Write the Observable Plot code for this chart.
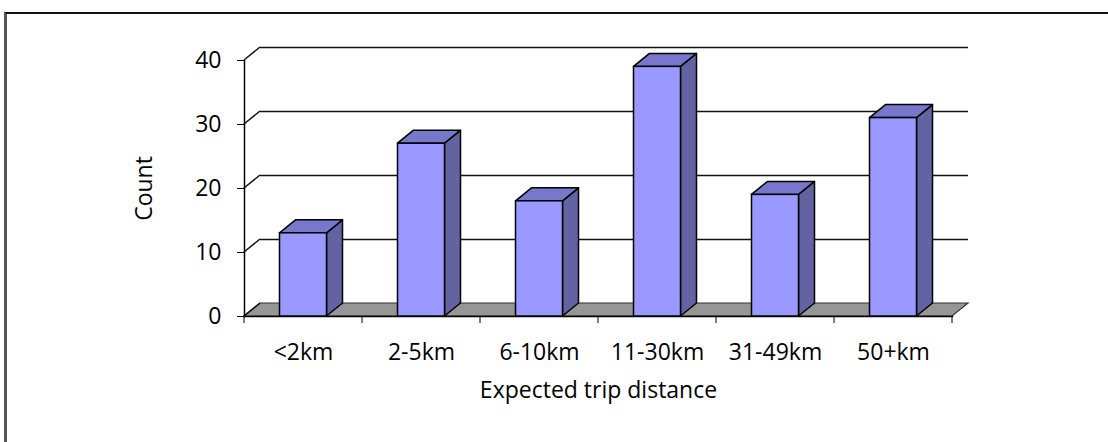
<!DOCTYPE html>
<html>
<head>
<meta charset="utf-8">
<script src="https://cdn.jsdelivr.net/npm/d3@7"></script>
<script src="https://cdn.jsdelivr.net/npm/@observablehq/plot@0.6"></script>
<style>
  html, body { margin: 0; padding: 0; background: #fff; }
  #wrap { position: relative; width: 1108px; height: 442px; overflow: hidden; }
  #chart { position: absolute; left: 0; top: 0; }
  #border { position: absolute; left: 4px; top: 12px; width: 1110px; height: 440px;
            border-top: 2px solid #111; border-left: 3px solid #555; box-sizing: border-box; pointer-events: none; }
</style>
</head>
<body>
<div id="wrap"><div id="chart"></div><div id="border"></div></div>
<script>
const categories = ["<2km", "2-5km", "6-10km", "11-30km", "31-49km", "50+km"];
const counts = [13, 27, 18, 39, 19, 31];
const yTicks = [0, 10, 20, 30, 40];
const xLabel = "Expected trip distance";
const yLabel = "Count";

const data = categories.map((c, i) => ({category: c, count: counts[i]}));

const DX = 16, DY = -13;       // 3D depth offset (pixels)
const INSET = 35.5;            // bar inset within band
const FONT = "'Open Sans', sans-serif";
const FS = 23;

function bandW(scales) {
  const x = scales.x;
  if (typeof x.bandwidth === "function") return x.bandwidth();
  return x(categories[1]) - x(categories[0]);
}

function floorMark(index, scales, values, dims) {
  const y0 = scales.y(0);
  const xl = dims.marginLeft, xr = dims.width - dims.marginRight;
  const g = d3.create("svg:g");
  g.append("polygon")
    .attr("points", [[xl, y0], [xr, y0], [xr + DX, y0 + DY], [xl + DX, y0 + DY]].map(p => p.join(",")).join(" "))
    .attr("fill", "#969696").attr("stroke", "#333").attr("stroke-width", 1.2);
  return g.node();
}

function sideWall(index, scales, values, dims) {
  const xl = dims.marginLeft;
  const g = d3.create("svg:g").attr("stroke", "#111").attr("stroke-width", 1.5).attr("fill", "none");
  for (const t of yTicks) {
    const y = scales.y(t);
    g.append("line").attr("x1", xl).attr("y1", y).attr("x2", xl + DX).attr("y2", y + DY);
  }
  return g.node();
}

function barFaces(index, scales, values, dims) {
  const w = bandW(scales) - 2 * INSET;
  const yb = scales.y(0);
  const g = d3.create("svg:g").attr("stroke", "#000").attr("stroke-width", 1.5).attr("stroke-linejoin", "round");
  for (const d of data) {
    const x0 = scales.x(d.category) + INSET, x1 = x0 + w;
    const yt = scales.y(d.count);
    g.append("polygon")
      .attr("points", [[x1, yb], [x1 + DX, yb + DY], [x1 + DX, yt + DY], [x1, yt]].map(p => p.join(",")).join(" "))
      .attr("fill", "#6363A3");
    g.append("polygon")
      .attr("points", [[x0, yt], [x0 + DX, yt + DY], [x1 + DX, yt + DY], [x1, yt]].map(p => p.join(",")).join(" "))
      .attr("fill", "#7777CC");
  }
  return g.node();
}

function xBoundaryTicks(index, scales, values, dims) {
  const bw = bandW(scales);
  const y0 = scales.y(0);
  const g = d3.create("svg:g").attr("stroke", "#000").attr("stroke-width", 1);
  categories.forEach((c, i) => {
    const x = scales.x(c);
    g.append("line").attr("x1", x).attr("x2", x).attr("y1", y0).attr("y2", y0 + 7);
    if (i === categories.length - 1) {
      g.append("line").attr("x1", x + bw).attr("x2", x + bw).attr("y1", y0).attr("y2", y0 + 7);
    }
  });
  return g.node();
}

const chart = Plot.plot({
  width: 1108,
  height: 442,
  marginLeft: 244,
  marginRight: 156,
  marginTop: 60,
  marginBottom: 126,
  style: {fontFamily: FONT, fontSize: FS + "px", color: "#000", background: "transparent", overflow: "visible"},
  x: {type: "band", domain: categories, padding: 0},
  y: {domain: [0, 40]},
  marks: [
    floorMark,
    Plot.ruleY(yTicks.filter(t => t > 0), {dx: DX, dy: DY, stroke: "#111", strokeWidth: 1.5}),
    sideWall,
    Plot.frame({anchor: "left", stroke: "#000", strokeWidth: 1.5}),
    Plot.frame({anchor: "bottom", stroke: "#000", strokeWidth: 1.5}),
    barFaces,
    Plot.barY(data, {x: "category", y: "count", fill: "#9999FF", stroke: "#000", strokeWidth: 1.5,
                     insetLeft: INSET, insetRight: INSET}),
    xBoundaryTicks,
    Plot.axisY({ticks: yTicks, tickSize: 7, tickPadding: 16, label: null, fontSize: FS, stroke: "#000"}),
    Plot.axisX({tickSize: 0, tickPadding: 27, label: null, fontSize: FS}),
    Plot.text([yLabel], {frameAnchor: "left", dx: -100, rotate: -90, textAnchor: "middle", fontSize: FS, lineAnchor: "middle", fill: "#000"}),
    Plot.text([xLabel], {frameAnchor: "bottom", dy: 74, textAnchor: "middle", fontSize: FS, lineAnchor: "middle", fill: "#000"})
  ]
});
document.getElementById("chart").appendChild(chart);
</script>
</body>
</html>
